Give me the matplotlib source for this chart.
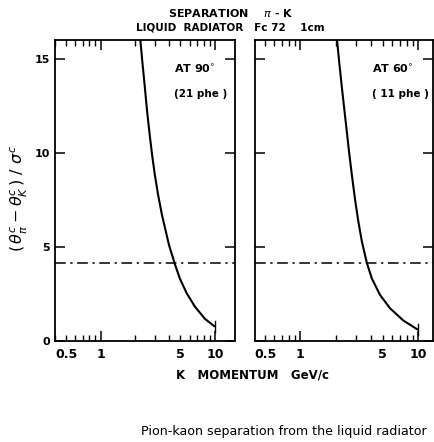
import numpy as np
import matplotlib.pyplot as plt
from matplotlib.ticker import LogLocator, NullFormatter, FixedLocator

# momentum (GeV/c) and separation
p_90 = [2.23, 2.32, 2.43, 2.55, 2.69, 2.82, 2.98, 3.18, 3.45, 3.97, 4.46, 4.93,
        5.65, 6.68, 8.17, 10.0]
s_90 = [16.0, 14.85, 13.6, 12.25, 10.96, 9.92, 8.86, 7.8, 6.68, 5.1, 4.1, 3.33,
        2.55, 1.83, 1.18, 0.76]

p_60 = [2.05, 2.14, 2.26, 2.38, 2.49, 2.60, 2.74, 2.92, 3.10, 3.33, 3.67, 4.05,
        4.76, 5.79, 7.51, 10.0]
s_60 = [16.0, 14.82, 13.41, 12.15, 11.06, 10.01, 8.84, 7.51, 6.42, 5.31, 4.17, 3.33,
        2.45, 1.74, 1.09, 0.60]

limit = 4.15
xticks = [0.5, 1, 5, 10]
xticklabels = ['0.5', '1', '5', '10']
yticks = [0, 5, 10, 15]

fig = plt.figure(figsize=(4.35, 4.42), dpi=100)
ax1 = fig.add_axes([0.1264, 0.2285, 0.414, 0.681])
ax2 = fig.add_axes([0.586, 0.2285, 0.409, 0.681])

panels = [(ax1, p_90, s_90, 'AT 90$^{\\circ}$', '(21 phe )', (0.4, 15)),
          (ax2, p_60, s_60, 'AT 60$^{\\circ}$', '( 11 phe )', (0.41, 13.4))]

for ax, p, s, t1, t2, xl in panels:
    ax.set_xscale('log')
    ax.set_xlim(*xl)
    ax.set_ylim(0, 16)
    ax.plot(p, s, color='black', lw=1.5, solid_capstyle='butt', solid_joinstyle='round')
    ax.axhline(limit, color='black', lw=1.1, dashes=(7, 3, 1.5, 3))
    ax.plot([10, 10], [s[-1] - 0.3, s[-1] + 0.3], color='black', lw=1.0)
    ax.xaxis.set_major_locator(FixedLocator([1, 10]))
    ax.xaxis.set_minor_locator(LogLocator(base=10, subs=np.arange(2, 10)))
    ax.xaxis.set_minor_formatter(NullFormatter())
    ax.xaxis.set_major_formatter(NullFormatter())
    ax.set_yticks(yticks)
    ax.tick_params(axis='both', which='major', direction='in', length=7, width=1.1,
                   top=True, right=True, labelsize=8)
    ax.tick_params(axis='x', which='minor', direction='in', length=4, width=1.0,
                   top=True, bottom=True)
    for sp in ax.spines.values():
        sp.set_linewidth(1.3)
    for xv, lab in zip(xticks, xticklabels):
        ax.text(xv, -0.35, lab, transform=ax.transData,
                ha='center', va='top', fontsize=9, fontweight='bold')
    ax.text(0.66, 0.905, t1, transform=ax.transAxes, fontsize=8, fontweight='bold', ha='left', va='center')
    ax.text(0.66, 0.82, t2, transform=ax.transAxes, fontsize=7.5, fontweight='bold', ha='left', va='center')

ax1.set_yticklabels(['0', '5', '10', '15'], fontweight='bold')
ax2.set_yticklabels([])

fig.text(0.53, 0.970, 'SEPARATION    $\\pi$ - K', ha='center', va='center', fontsize=8, fontweight='bold')
fig.text(0.53, 0.938, 'LIQUID  RADIATOR   Fc 72    1cm', ha='center', va='center', fontsize=7.5, fontweight='bold')
fig.text(0.045, 0.55, '$(\\,\\theta^{c}_{\\pi} - \\theta^{c}_{K}\\,)\\ /\\ \\sigma^{c}$', rotation=90,
         ha='center', va='center', fontsize=11.5)
fig.text(0.58, 0.152, 'K   MOMENTUM   GeV/c', ha='center', va='center', fontsize=8.5, fontweight='bold')
fig.text(0.652, 0.024, 'Pion-kaon separation from the liquid radiator', ha='center', va='center', fontsize=9.1)

fig.savefig('out.png', dpi=100)
